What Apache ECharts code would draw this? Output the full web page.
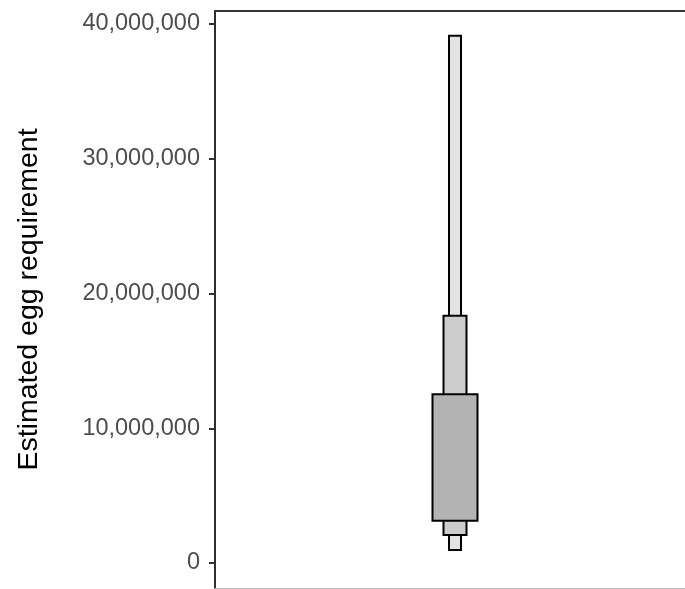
<!DOCTYPE html>
<html>
<head>
<meta charset="utf-8">
<script src="https://cdn.jsdelivr.net/npm/echarts@6/dist/echarts.min.js"></script>
<style>html,body{margin:0;padding:0;background:#fff;overflow:hidden}#c{width:685px;height:589px}</style>
</head>
<body>
<div id="c"></div>
<script>
// Letter-value (boxen) levels: lower and upper bounds, outermost first
const categories = ['eggs'];
const levelNames = ['level3', 'level2', 'level1'];
const lowerValues = [960000, 2080000, 3140000];
const upperValues = [39130000, 18350000, 12520000];
const yTickValues = [0, 10000000, 20000000, 30000000, 40000000];
const yTitle = 'Estimated egg requirement';

const fills = ['#e3e3e3', '#cccccc', '#b3b3b3'];
const widthsPx = [12, 23, 45];

// category position 1 on a value axis (panel extends past the right edge of the window)
const data = levelNames.map((n, i) => ({ name: n, value: [categories.indexOf('eggs') + 1, lowerValues[i], upperValues[i], i] }));

const chart = echarts.init(document.getElementById('c'), null, { renderer: 'canvas' });
chart.setOption({
  animation: false,
  backgroundColor: '#ffffff',
  grid: { left: 215, top: 11, width: 490, bottom: 1, containLabel: false, outerBoundsMode: 'none' },
  xAxis: [
    { type: 'value', min: 0, max: 2.0417, position: 'top',
      axisLine: { show: true, onZero: false, lineStyle: { color: '#333333', width: 2 } },
      axisTick: { show: false }, axisLabel: { show: false }, splitLine: { show: false } },
    { type: 'value', min: 0, max: 2.0417, position: 'bottom',
      axisLine: { show: true, onZero: false, lineStyle: { color: '#bdbdbd', width: 1 } },
      axisTick: { show: false }, axisLabel: { show: false }, splitLine: { show: false } }
  ],
  yAxis: {
    type: 'value',
    min: -1855000,
    max: 40964700,
    axisLine: { show: true, onZero: false, lineStyle: { color: '#2e2e2e', width: 2 } },
    axisTick: { show: true, length: 6, customValues: yTickValues, lineStyle: { color: '#333333', width: 2 } },
    axisLabel: {
      customValues: yTickValues, margin: 15, color: '#4d4d4d',
      fontFamily: 'Liberation Sans', fontSize: 23.5,
      formatter: v => Number(v).toLocaleString('en-US')
    },
    splitLine: { show: false },
    name: yTitle, nameLocation: 'middle', nameGap: 171, nameRotate: 90,
    nameTextStyle: { color: '#000000', fontFamily: 'Liberation Sans', fontSize: 28.5 }
  },
  series: [{
    type: 'custom',
    xAxisIndex: 0,
    data: data,
    renderItem: function (params, api) {
      const x = api.coord([api.value(0), 0])[0];
      const yLo = api.coord([api.value(0), api.value(1)])[1];
      const yHi = api.coord([api.value(0), api.value(2)])[1];
      const lvl = api.value(3);
      const w = widthsPx[lvl];
      return {
        type: 'rect',
        shape: { x: x - w / 2, y: yHi, width: w, height: yLo - yHi },
        style: { fill: fills[lvl], stroke: '#000000', lineWidth: 2 }
      };
    }
  }]
});
</script>
</body>
</html>
